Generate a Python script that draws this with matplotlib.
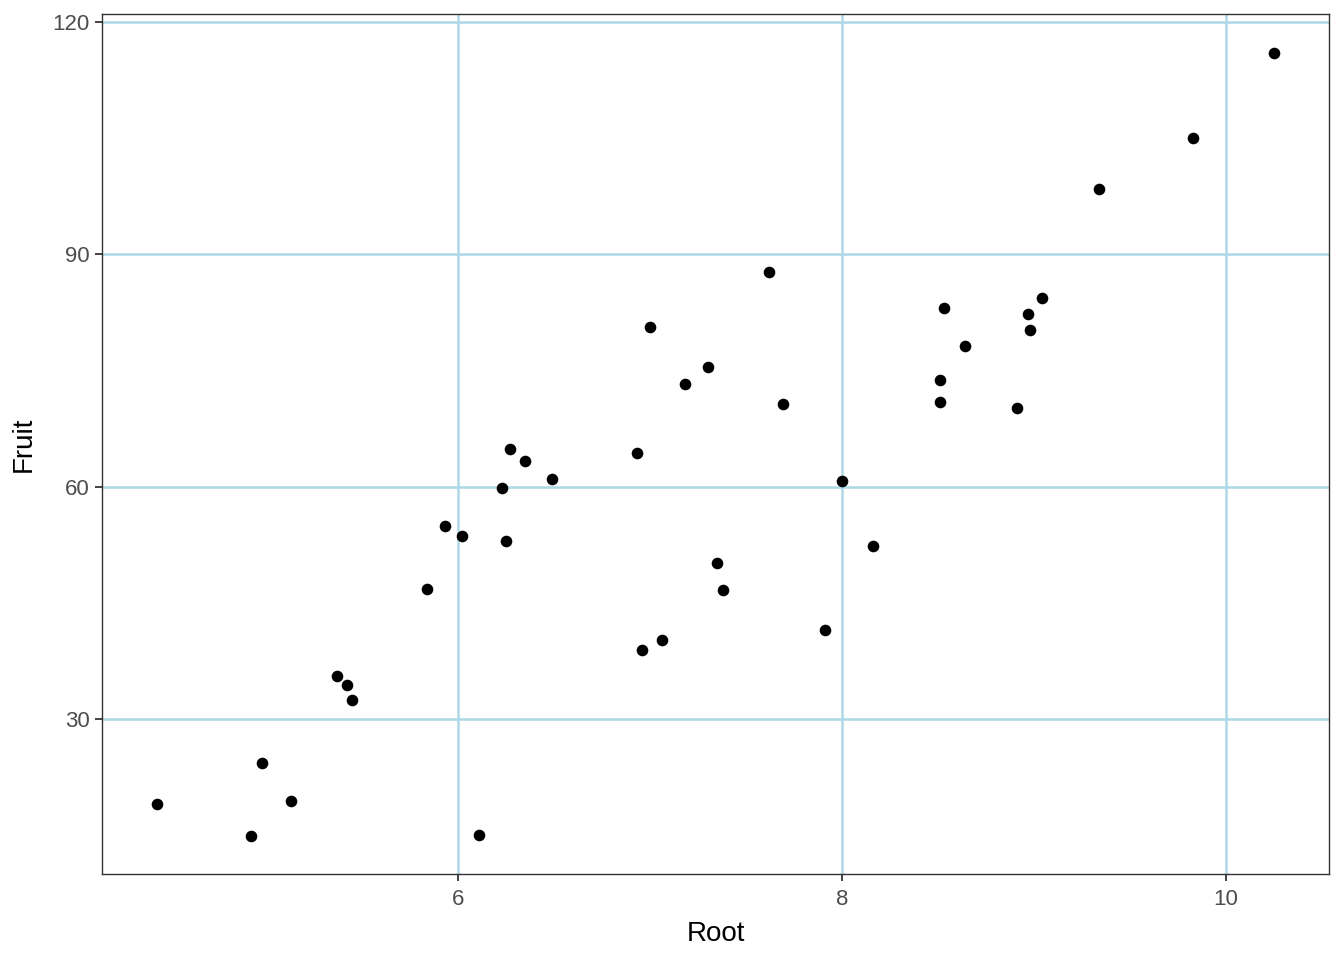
import numpy as np
import matplotlib
matplotlib.use("Agg")
import matplotlib.pyplot as plt

plt.rcParams['font.family'] = ['Liberation Sans', 'DejaVu Sans']

# Root vs Fruit values
root = [4.43, 4.92, 4.98, 5.13, 5.37, 5.42, 5.45, 5.84, 5.93, 6.02,
        6.11, 6.23, 6.25, 6.27, 6.35, 6.49, 6.93, 6.96, 7.00, 7.06,
        7.18, 7.30, 7.35, 7.38, 7.62, 7.69, 7.91, 8.00, 8.16, 8.51,
        8.51, 8.53, 8.64, 8.91, 8.97, 8.98, 9.04, 9.34, 9.83, 10.25]
fruit = [19.0, 14.9, 24.3, 19.4, 35.5, 34.4, 32.4, 46.8, 54.9, 53.6,
         15.0, 59.8, 53.0, 64.9, 63.3, 61.0, 64.3, 38.9, 80.6, 40.2,
         73.2, 75.4, 50.1, 46.6, 87.7, 70.7, 41.5, 60.7, 52.3, 73.8,
         70.9, 83.1, 78.2, 70.2, 82.3, 80.2, 84.4, 98.4, 105.0, 116.0]

xticks = [6, 8, 10]
yticks = [30, 60, 90, 120]

fig = plt.figure(figsize=(13.44, 9.6), dpi=100)
ax = fig.add_axes([102/1344, 1 - 874/960, (1329-102)/1344, (874-14)/960])

for v in xticks:
    ax.axvline(v, color='lightblue', lw=1.8, zorder=0)
for v in yticks:
    ax.axhline(v, color='lightblue', lw=1.8, zorder=0)

ax.scatter(root, fruit, s=70, color='black', zorder=3, linewidths=0)

ax.set_xlim(4.146, 10.536)
ax.set_ylim(9.98, 121.03)
ax.set_xticks(xticks)
ax.set_yticks(yticks)
ax.tick_params(axis='both', color='#333333', labelcolor='#4d4d4d',
               labelsize=16, length=5, width=1.3, pad=4)
ax.tick_params(axis='x', pad=6)
for sp in ax.spines.values():
    sp.set_color('#333333')
    sp.set_linewidth(1.0)

ax.set_xlabel('Root', fontsize=20, labelpad=8)
ax.set_ylabel('Fruit', fontsize=20, labelpad=11)

fig.savefig('out.png', dpi=100)
